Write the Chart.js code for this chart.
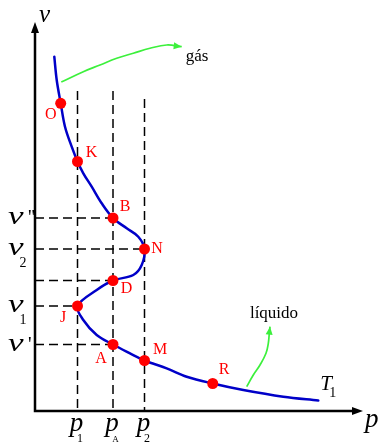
<!DOCTYPE html>
<html>
<head>
<meta charset="utf-8">
<script src="https://cdn.jsdelivr.net/npm/chart.js@4"></script>
<style>
  html, body { margin: 0; padding: 0; background: #fff; }
  #wrap { width: 382px; height: 443px; }
</style>
</head>
<body>
<div id="wrap"><canvas id="c" width="382" height="443"></canvas></div>
<script>
// Van der Waals isotherm T1 drawn in the p–v plane (p across, v up)
const curveP = [1.93, 2.17, 2.57, 3.0, 3.67, 4.25, 4.83, 5.67, 6.67, 7.8, 9.17, 10.33, 10.95,
                10.67, 9.83, 7.8, 6.17, 4.25, 4.83, 6.17, 7.8, 9.5, 10.95, 13.17, 15.17, 17.77,
                20.83, 24.83, 28.33];
const curveV = [35.43, 33.1, 30.77, 28.43, 26.43, 24.95, 23.77, 22.43, 20.77, 19.3, 18.27, 17.43, 16.2,
                14.6, 13.6, 13.05, 12.1, 10.5, 9.1, 7.6, 6.65, 5.77, 5.05, 4.27, 3.43, 2.75,
                2.1, 1.43, 1.05];

// Named states on the isotherm
const markNames = ['O', 'K', 'B', 'N', 'D', 'J', 'A', 'M', 'R'];
const markP = [2.57, 4.25, 7.8, 10.95, 7.8, 4.25, 7.8, 10.95, 17.77];
const markV = [30.77, 24.95, 19.3, 16.2, 13.05, 10.5, 6.65, 5.05, 2.75];

// Pressure levels (vertical guides) and their subscripts
const pLevels = [4.25, 7.8, 10.95];
const pLevelSubs = ['1', 'A', '2'];
const pLevelTops = [32.0, 32.0, 31.2];

// Horizontal guides run from the v axis to these states
const vGuideMarks = ['B', 'N', 'D', 'J', 'A'];
// Volume tick labels: state, subscript, primes
const vTickMarks = ['B', 'N', 'J', 'A'];
const vTickSubs = ['', '2', '1', ''];
const vTickPrimes = ["''", '', '', "'"];

// Annotation arrows
const gasArrowP = [2.63, 4.83, 6.5, 8.17, 9.83, 11.5, 13.17, 14.67];
const gasArrowV = [32.9, 33.93, 34.6, 35.27, 35.77, 36.27, 36.6, 36.43];
const liqArrowP = [21.17, 21.83, 22.5, 23.1, 23.33, 23.43, 23.5];
const liqArrowV = [2.43, 3.6, 4.6, 5.77, 6.77, 7.77, 8.43];

const pts = (ps, vs) => ps.map((p, i) => ({ x: p, y: vs[i] }));
const markAt = n => { const i = markNames.indexOf(n); return { x: markP[i], y: markV[i] }; };

const RED = '#ff0000';
const BLUE = '#0000c8';
const GREEN = '#3cf03c';
const SERIF = '"Liberation Serif", "DejaVu Serif", serif';

const datasets = [];
datasets.push({
  label: 'states', data: pts(markP, markV), showLine: false,
  pointRadius: 5.5, pointHoverRadius: 5.5, pointBackgroundColor: RED, pointBorderWidth: 0
});
datasets.push({
  label: 'T1', data: pts(curveP, curveV), showLine: true, borderColor: BLUE,
  borderWidth: 2.5, pointRadius: 0, tension: 0.35, borderCapStyle: 'round'
});
datasets.push({
  label: 'gas', data: pts(gasArrowP, gasArrowV), showLine: true, borderColor: GREEN,
  borderWidth: 1.7, pointRadius: 0, tension: 0.4
});
datasets.push({
  label: 'liquid', data: pts(liqArrowP, liqArrowV), showLine: true, borderColor: GREEN,
  borderWidth: 1.7, pointRadius: 0, tension: 0.4
});
const dashStyle = { showLine: true, borderColor: '#000', borderWidth: 1.5, borderDash: [9, 5], pointRadius: 0 };
pLevels.forEach((p, i) => {
  datasets.push(Object.assign({ label: 'p' + pLevelSubs[i], data: [{ x: p, y: pLevelTops[i] }, { x: p, y: 0 }] }, dashStyle));
});
vGuideMarks.forEach(n => {
  const m = markAt(n);
  datasets.push(Object.assign({ label: 'v' + n, data: [{ x: 0, y: m.y }, { x: m.x, y: m.y }] }, dashStyle));
});

// Offsets of the state letters from their dots
const labelOffsets = {
  O: [-10, 11], K: [14, -9], B: [12, -11], N: [12.5, 0], D: [13.5, 8],
  J: [-14.5, 12], A: [-12, 14], M: [15.5, -10.5], R: [11.5, -13.5]
};

function arrowHead(ctx, from, tip, len, half, color) {
  const a = Math.atan2(tip.y - from.y, tip.x - from.x);
  ctx.save();
  ctx.translate(tip.x, tip.y);
  ctx.rotate(a);
  ctx.beginPath();
  ctx.moveTo(0, 0);
  ctx.lineTo(-len, -half);
  ctx.lineTo(-len, half);
  ctx.closePath();
  ctx.fillStyle = color;
  ctx.fill();
  ctx.restore();
}

const sketch = {
  id: 'sketch',
  afterDatasetsDraw(chart) {
    const ctx = chart.ctx;
    const xs = chart.scales.x, ys = chart.scales.y;
    const area = chart.chartArea;
    const px = v => xs.getPixelForValue(v);
    const py = v => ys.getPixelForValue(v);
    const X0 = px(0), Y0 = py(0);

    ctx.save();
    // axes
    ctx.strokeStyle = '#000';
    ctx.lineWidth = 2.5;
    ctx.beginPath();
    ctx.moveTo(X0, Y0 + 1.25);
    ctx.lineTo(X0, area.top + 8);
    ctx.moveTo(X0 - 1.25, Y0);
    ctx.lineTo(area.right - 8, Y0);
    ctx.stroke();
    arrowHead(ctx, { x: X0, y: area.top + 20 }, { x: X0, y: area.top }, 11, 4, '#000');
    arrowHead(ctx, { x: area.right - 20, y: Y0 }, { x: area.right, y: Y0 }, 11, 4, '#000');

    // axis titles
    ctx.fillStyle = '#000';
    ctx.textBaseline = 'alphabetic';
    ctx.textAlign = 'left';
    ctx.font = 'italic 25px ' + SERIF;
    ctx.fillText('v', X0 + 4, area.top - 0.5);
    ctx.font = 'italic 27px ' + SERIF;
    ctx.fillText('p', area.right + 2, Y0 + 16);

    // pressure tick labels
    pLevels.forEach((p, i) => {
      const x = px(p);
      ctx.font = 'italic 27px ' + SERIF;
      ctx.textAlign = 'center';
      ctx.fillText('p', x - 1, Y0 + 20);
      ctx.font = (pLevelSubs[i] === 'A' ? 9 : 12) + 'px ' + SERIF;
      ctx.fillText(pLevelSubs[i], x + 2.5, Y0 + 31);
    });

    // volume tick labels
    vTickMarks.forEach((n, i) => {
      const y = py(markAt(n).y);
      ctx.save();
      ctx.translate(8, y + 6);
      ctx.scale(1.35, 1);
      ctx.font = 'italic 26px ' + SERIF;
      ctx.textAlign = 'left';
      ctx.fillText('v', 0, 0);
      ctx.restore();
      if (vTickPrimes[i]) {
        ctx.font = '20px ' + SERIF;
        ctx.textAlign = 'left';
        ctx.fillText(vTickPrimes[i], 28, y + 6);
      }
      if (vTickSubs[i]) {
        ctx.font = '14px ' + SERIF;
        ctx.textAlign = 'center';
        ctx.fillText(vTickSubs[i], 23, y + 17.5);
      }
    });

    // state letters
    ctx.fillStyle = RED;
    ctx.font = '16px ' + SERIF;
    ctx.textAlign = 'center';
    ctx.textBaseline = 'middle';
    markNames.forEach((n, i) => {
      const o = labelOffsets[n];
      ctx.fillText(n, px(markP[i]) + o[0], py(markV[i]) + o[1]);
    });

    // isotherm name
    ctx.fillStyle = '#000';
    ctx.textBaseline = 'alphabetic';
    ctx.textAlign = 'left';
    const end = { x: px(curveP[curveP.length - 1]), y: py(curveV[curveV.length - 1]) };
    ctx.font = 'italic 21px ' + SERIF;
    ctx.fillText('T', end.x + 2, end.y - 10.5);
    ctx.font = '14px ' + SERIF;
    ctx.fillText('1', end.x + 11, end.y - 3.5);

    // annotation arrowheads and words
    const gN = gasArrowP.length;
    const gTip = { x: px(gasArrowP[gN - 1]), y: py(gasArrowV[gN - 1]) };
    const gPrev = { x: px(gasArrowP[gN - 2]), y: py(gasArrowV[gN - 2]) };
    arrowHead(ctx, gPrev, gTip, 8, 3.5, GREEN);
    const lN = liqArrowP.length;
    const lTip = { x: px(liqArrowP[lN - 1]), y: py(liqArrowV[lN - 1]) };
    const lPrev = { x: px(liqArrowP[lN - 2]), y: py(liqArrowV[lN - 2]) };
    arrowHead(ctx, lPrev, lTip, 8, 3.5, GREEN);

    ctx.fillStyle = '#000';
    ctx.font = '17px ' + SERIF;
    ctx.textAlign = 'left';
    ctx.fillText('gás', gTip.x + 4, gTip.y + 14);
    ctx.textAlign = 'center';
    ctx.fillText('líquido', lTip.x + 4, lTip.y - 9);
    ctx.restore();
  }
};

new Chart(document.getElementById('c'), {
  type: 'scatter',
  data: { datasets },
  options: {
    responsive: false,
    animation: false,
    events: [],
    layout: { padding: { left: 35, right: 19, top: 22, bottom: 32 } },
    plugins: { legend: { display: false }, tooltip: { enabled: false } },
    scales: {
      x: { type: 'linear', min: 0, max: 32.8, display: false },
      y: { type: 'linear', min: 0, max: 38.9, display: false }
    }
  },
  plugins: [sketch]
});
</script>
</body>
</html>
